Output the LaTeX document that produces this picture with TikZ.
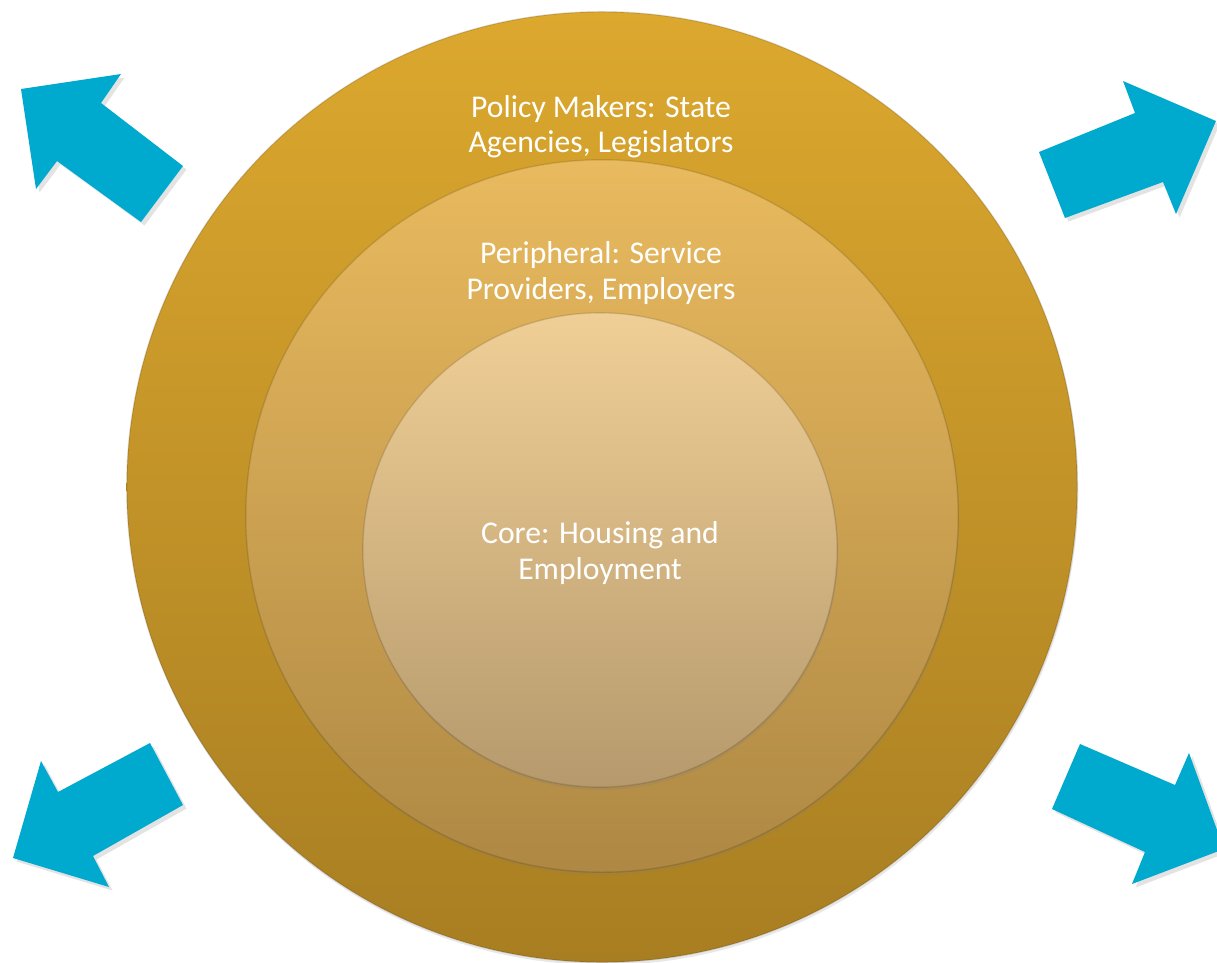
\documentclass[tikz,border=0pt]{standalone}
\usepackage{fontspec}
\setmainfont{Carlito}
\usetikzlibrary{shadows}

\definecolor{arrowblue}{HTML}{00A9CE}
\definecolor{outtop}{HTML}{DCA82E}
\definecolor{outbot}{HTML}{A87E22}
\definecolor{midtop}{HTML}{E9BA5E}
\definecolor{midbot}{HTML}{AE8844}
\definecolor{intop}{HTML}{F0CF96}
\definecolor{inbot}{HTML}{B69A6D}

\tikzset{
	ring/.style={circle, inner sep=0pt, draw=black, draw opacity=0.12, line width=0.4pt,
		drop shadow={shadow xshift=0.3pt, shadow yshift=-0.8pt, opacity=0.18}},
	ringtext/.style={text=white, align=center, font=\fontsize{9}{10}\selectfont},
	bigarrow/.style={fill=arrowblue,
		drop shadow={shadow xshift=1pt, shadow yshift=-1pt, opacity=0.22}},
}

\begin{document}
\begin{tikzpicture}[x=0.01cm, y=-0.01cm]
				\useasboundingbox (0,0) rectangle (1217,963);
				\clip (0,0) rectangle (1217,963);
				
				% three nested rings
				\node[ring, minimum size=9.5cm, top color=outtop, bottom color=outbot] (policy) at (602,487) {};
				\node[ring, minimum size=7.12cm, top color=midtop, bottom color=midbot] (peripheral) at (602,516) {};
				\node[ring, minimum size=4.74cm, top color=intop, bottom color=inbot] (core) at (600,550) {};
				
				\node[ringtext] (policytext) at (601,127) {Policy Makers: State\\Agencies, Legislators};
				\node[ringtext] (peripheraltext) at (601,273) {Peripheral: Service\\Providers, Employers};
				\node[ringtext] (coretext) at (600,553) {Core: Housing and\\Employment};
				
				% arrows pointing outwards
				\fill[bigarrow] (183,166) -- (101,103) -- (121,74) -- (21,89) -- (36,189) -- (57,161) -- (141,222) -- cycle;
				\fill[bigarrow] (1039,152) -- (1135,113) -- (1123,81) -- (1216,121) -- (1176,214) -- (1163,182) -- (1065,218) -- cycle;
				\fill[bigarrow] (150,743) -- (58,792) -- (41,761) -- (13,858) -- (109,887) -- (93,856) -- (183,805) -- cycle;
				\fill[bigarrow] (1080,744) -- (1175,785) -- (1189,753) -- (1224,849) -- (1132,884) -- (1145,852) -- (1052,809) -- cycle;
\end{tikzpicture}
\end{document}
